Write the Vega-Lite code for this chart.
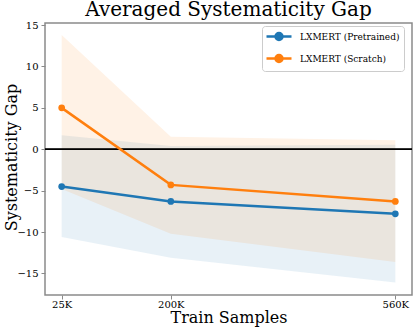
{
  "$schema": "https://vega.github.io/schema/vega-lite/v6.json",
  "autosize": {"type": "none"},
  "padding": {"left": 45, "top": 23, "right": 4, "bottom": 35},
  "width": 367,
  "height": 272,
  "title": {"text": "Averaged Systematicity Gap", "font": "DejaVu Serif", "fontSize": 20, "fontWeight": "normal", "color": "#000", "anchor": "middle", "offset": 0},
  "data": {"values": [
    {"model": "LXMERT (Pretrained)", "samples": 25, "mean": -4.5, "lo": -10.6, "hi": 1.7},
    {"model": "LXMERT (Pretrained)", "samples": 200, "mean": -6.3, "lo": -13.1, "hi": 0.4},
    {"model": "LXMERT (Pretrained)", "samples": 560, "mean": -7.8, "lo": -16.1, "hi": 0.55},
    {"model": "LXMERT (Scratch)", "samples": 25, "mean": 5.0, "lo": -4.8, "hi": 13.8},
    {"model": "LXMERT (Scratch)", "samples": 200, "mean": -4.3, "lo": -10.2, "hi": 1.5},
    {"model": "LXMERT (Scratch)", "samples": 560, "mean": -6.3, "lo": -13.6, "hi": 1.1}
  ]},
  "config": {
    "view": {"stroke": "#8a8a8a", "strokeWidth": 1.5},
    "axis": {"labelFont": "DejaVu Serif", "titleFont": "DejaVu Serif", "labelFontSize": 10, "titleFontSize": 16, "titleFontWeight": "normal", "labelColor": "#000", "titleColor": "#000", "domain": false, "grid": false, "tickColor": "#8a8a8a", "tickSize": 4},
    "legend": {"title": null, "orient": "none", "legendX": 217, "legendY": 3,
      "labelFont": "DejaVu Serif", "labelFontSize": 9, "labelColor": "#000",
      "symbolType": "M-2.5,0H2.5M-0.7,0A0.7,0.7 0 1,1 0.7,0A0.7,0.7 0 1,1 -0.7,0",
      "symbolSize": 100, "symbolStrokeWidth": 2.5, "symbolOffset": 6.5, "rowPadding": 5, "labelOffset": 14.5,
      "strokeColor": "#cccccc", "fillColor": "#ffffff", "padding": 4, "cornerRadius": 3}
  },
  "layer": [
    {
      "mark": {"type": "area", "opacity": 0.1},
      "encoding": {
        "x": {"field": "samples", "type": "quantitative", "scale": {"domain": [-1.75, 586.75], "nice": false, "zero": false},
              "axis": {"values": [25, 200, 560], "labelExpr": "datum.value + 'K'", "title": "Train Samples", "labelPadding": 0, "titleY": 22, "titleBaseline": "middle"}},
        "y": {"field": "lo", "type": "quantitative", "scale": {"domain": [-17.6, 15.25], "nice": false, "zero": false},
              "axis": {"values": [-15, -10, -5, 0, 5, 10, 15], "title": "Systematicity Gap", "labelPadding": 3, "titleX": -34, "titleY": 134, "titleBaseline": "middle", "titleAngle": -90, "titleAlign": "center"}},
        "y2": {"field": "hi"},
        "color": {"field": "model", "type": "nominal", "scale": {"range": ["#1f77b4", "#ff7f0e"]},
          "legend": {"encode": {"symbols": {"update": {"fill": {"scale": "color", "field": "value"}, "stroke": {"scale": "color", "field": "value"}, "opacity": {"value": 1}}}}}}
      }
    },
    {
      "mark": {"type": "rule", "color": "#000", "strokeWidth": 1},
      "encoding": {"y": {"datum": 0}}
    },
    {
      "mark": {"type": "line", "strokeWidth": 2.5, "point": {"size": 45, "filled": true}},
      "encoding": {
        "x": {"field": "samples", "type": "quantitative"},
        "y": {"field": "mean", "type": "quantitative"},
        "color": {"field": "model", "type": "nominal",
          "legend": {"encode": {"symbols": {"update": {"fill": {"scale": "color", "field": "value"}, "stroke": {"scale": "color", "field": "value"}, "opacity": {"value": 1}}}}}}
      }
    }
  ]
}
